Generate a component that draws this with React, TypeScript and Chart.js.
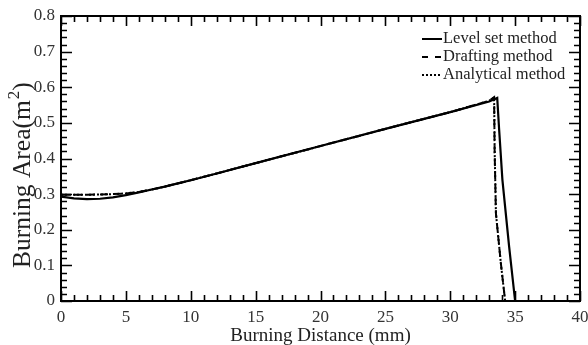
import React, { useEffect, useRef } from "react";
import { Chart, registerables } from "chart.js";

Chart.register(...registerables);

// ---- data ----
const levelSetX = [0, 1, 2, 3, 4, 5, 6, 7, 8, 9, 10, 12, 15, 20, 25, 30, 33, 33.62, 33.77, 34.02, 34.54, 35.0];
const levelSetY = [0.293, 0.288, 0.286, 0.287, 0.291, 0.297, 0.305, 0.313, 0.321, 0.33, 0.339, 0.358, 0.387, 0.435, 0.483, 0.53, 0.56, 0.57, 0.48, 0.34, 0.152, 0];

const draftingX = [0, 1, 2, 3, 4, 5, 6, 7, 8, 9, 10, 12, 15, 20, 25, 30, 33, 33.38, 33.42, 33.52, 33.9, 34.23];
const draftingY = [0.298, 0.298, 0.298, 0.299, 0.3, 0.302, 0.306, 0.313, 0.321, 0.33, 0.339, 0.358, 0.387, 0.435, 0.483, 0.53, 0.562, 0.572, 0.424, 0.246, 0.106, 0];

const analyticalX = [0, 1, 2, 3, 4, 5, 6, 7, 8, 9, 10, 12, 15, 20, 25, 30, 33, 33.38, 33.42, 33.52, 33.9, 34.23];
const analyticalY = [0.298, 0.298, 0.298, 0.299, 0.3, 0.302, 0.306, 0.313, 0.321, 0.33, 0.339, 0.358, 0.387, 0.435, 0.483, 0.53, 0.562, 0.572, 0.424, 0.246, 0.106, 0];

const seriesNames = ["Level set method", "Drafting method", "Analytical method"];
const xTitle = "Burning Distance (mm)";
const yTitleMain = "Burning Area(m";
const yTitleSup = "2";
const yTitleEnd = ")";
const xMin = 0, xMax = 40, xMajor = 5, xMinor = 1;
const yMin = 0, yMax = 0.8, yMajor = 0.1, yMinor = 0.02;

const FONT = "'Liberation Serif', 'Times New Roman', serif";

const toPts = (xs: number[], ys: number[]) => xs.map((x, i) => ({ x, y: ys[i] }));

const framePlugin = {
  id: "frameTicks",
  afterDatasetsDraw(chart: any) {
    const { ctx, chartArea, scales } = chart;
    const { left, right, top, bottom } = chartArea;
    const xs = scales.x, ys = scales.y;
    ctx.save();
    ctx.strokeStyle = "#000";
    ctx.lineWidth = 2;
    ctx.setLineDash([]);
    ctx.strokeRect(left, top, right - left, bottom - top);
    ctx.lineWidth = 1.6;
    ctx.beginPath();
    const nx = Math.round((xMax - xMin) / xMinor);
    for (let i = 0; i <= nx; i++) {
      const v = xMin + i * xMinor;
      const px = Math.round(xs.getPixelForValue(v)) + 0.5;
      const major = Math.abs(v / xMajor - Math.round(v / xMajor)) < 1e-6;
      const len = major ? 10 : 6;
      ctx.moveTo(px, bottom);
      ctx.lineTo(px, bottom - len);
      ctx.moveTo(px, top);
      ctx.lineTo(px, top + len);
    }
    const ny = Math.round((yMax - yMin) / yMinor);
    for (let i = 0; i <= ny; i++) {
      const v = yMin + i * yMinor;
      const py = Math.round(ys.getPixelForValue(v)) + 0.5;
      const major = i % Math.round(yMajor / yMinor) === 0;
      const len = major ? 11 : 6;
      ctx.moveTo(left, py);
      ctx.lineTo(left + len, py);
      ctx.moveTo(right, py);
      ctx.lineTo(right - len, py);
    }
    ctx.stroke();

    // legend
    const lx0 = 422, lx1 = 442;
    const rows = [39, 57, 75];
    const dashes = [[], [6, 7], [2, 2]];
    ctx.lineWidth = 2;
    ctx.font = `16.5px ${FONT}`;
    ctx.fillStyle = "#222";
    ctx.textBaseline = "middle";
    ctx.textAlign = "left";
    rows.forEach((ry, i) => {
      ctx.setLineDash(dashes[i]);
      ctx.beginPath();
      ctx.moveTo(lx0, ry);
      ctx.lineTo(lx1, ry);
      ctx.stroke();
      ctx.setLineDash([]);
      ctx.fillText(seriesNames[i], lx1 + 1, ry);
    });

    // y axis title (rotated, with superscript)
    ctx.translate(30, 268);
    ctx.rotate(-Math.PI / 2);
    ctx.textBaseline = "alphabetic";
    ctx.fillStyle = "#222";
    ctx.font = `25.5px ${FONT}`;
    ctx.fillText(yTitleMain, 0, 0);
    let w = ctx.measureText(yTitleMain).width;
    ctx.font = `17px ${FONT}`;
    ctx.fillText(yTitleSup, w + 1, -11);
    w += ctx.measureText(yTitleSup).width + 1;
    ctx.font = `25.5px ${FONT}`;
    ctx.fillText(yTitleEnd, w, 0);
    ctx.restore();
  },
};

export default function App() {
  const ref = useRef<HTMLCanvasElement | null>(null);
  useEffect(() => {
    document.body.style.margin = "0";
    const canvas = ref.current!;
    const chart = new Chart(canvas, {
      type: "line",
      data: {
        datasets: [
          {
            label: seriesNames[0],
            data: toPts(levelSetX, levelSetY),
            borderColor: "#000",
            borderWidth: 2.2,
            pointRadius: 0,
            tension: 0,
          },
          {
            label: seriesNames[1],
            data: toPts(draftingX, draftingY),
            borderColor: "#000",
            borderWidth: 2,
            borderDash: [8, 5],
            pointRadius: 0,
            tension: 0,
          },
          {
            label: seriesNames[2],
            data: toPts(analyticalX, analyticalY),
            borderColor: "#000",
            borderWidth: 2,
            borderDash: [2, 2],
            pointRadius: 0,
            tension: 0,
          },
        ],
      },
      options: {
        animation: false,
        responsive: false,
        maintainAspectRatio: false,
        layout: { padding: { left: 0, right: 8, top: 16, bottom: 0 } },
        plugins: { legend: { display: false }, tooltip: { enabled: false } },
        scales: {
          x: {
            type: "linear",
            min: xMin,
            max: xMax,
            afterFit: (s: any) => { s.height = 44; s.paddingLeft = 0; s.paddingRight = 0; },
            ticks: { stepSize: xMajor, color: "#333", font: { family: FONT, size: 17 }, padding: 6, maxRotation: 0 },
            grid: { display: false, drawTicks: false },
            border: { display: false },
            title: { display: true, text: xTitle, color: "#222", font: { family: FONT, size: 19 }, padding: { top: 0, bottom: -2 } },
          },
          y: {
            type: "linear",
            min: yMin,
            max: yMax,
            afterFit: (s: any) => { s.width = 61; s.paddingTop = 0; s.paddingBottom = 0; },
            ticks: {
              stepSize: yMajor,
              color: "#333",
              font: { family: FONT, size: 17 },
              padding: 6,
              callback: (v: any) => {
                const n = Number(v);
                return n === 0 ? "0" : n.toFixed(1);
              },
            },
            grid: { display: false, drawTicks: false },
            border: { display: false },
            title: { display: false },
          },
        },
      },
      plugins: [framePlugin],
    } as any);
    return () => chart.destroy();
  }, []);
  return (
    <div style={{ position: "absolute", left: 0, top: 0, width: 588, height: 345, background: "#fff" }}>
      <canvas ref={ref} width={588} height={345} style={{ width: 588, height: 345, display: "block" }} />
    </div>
  );
}
